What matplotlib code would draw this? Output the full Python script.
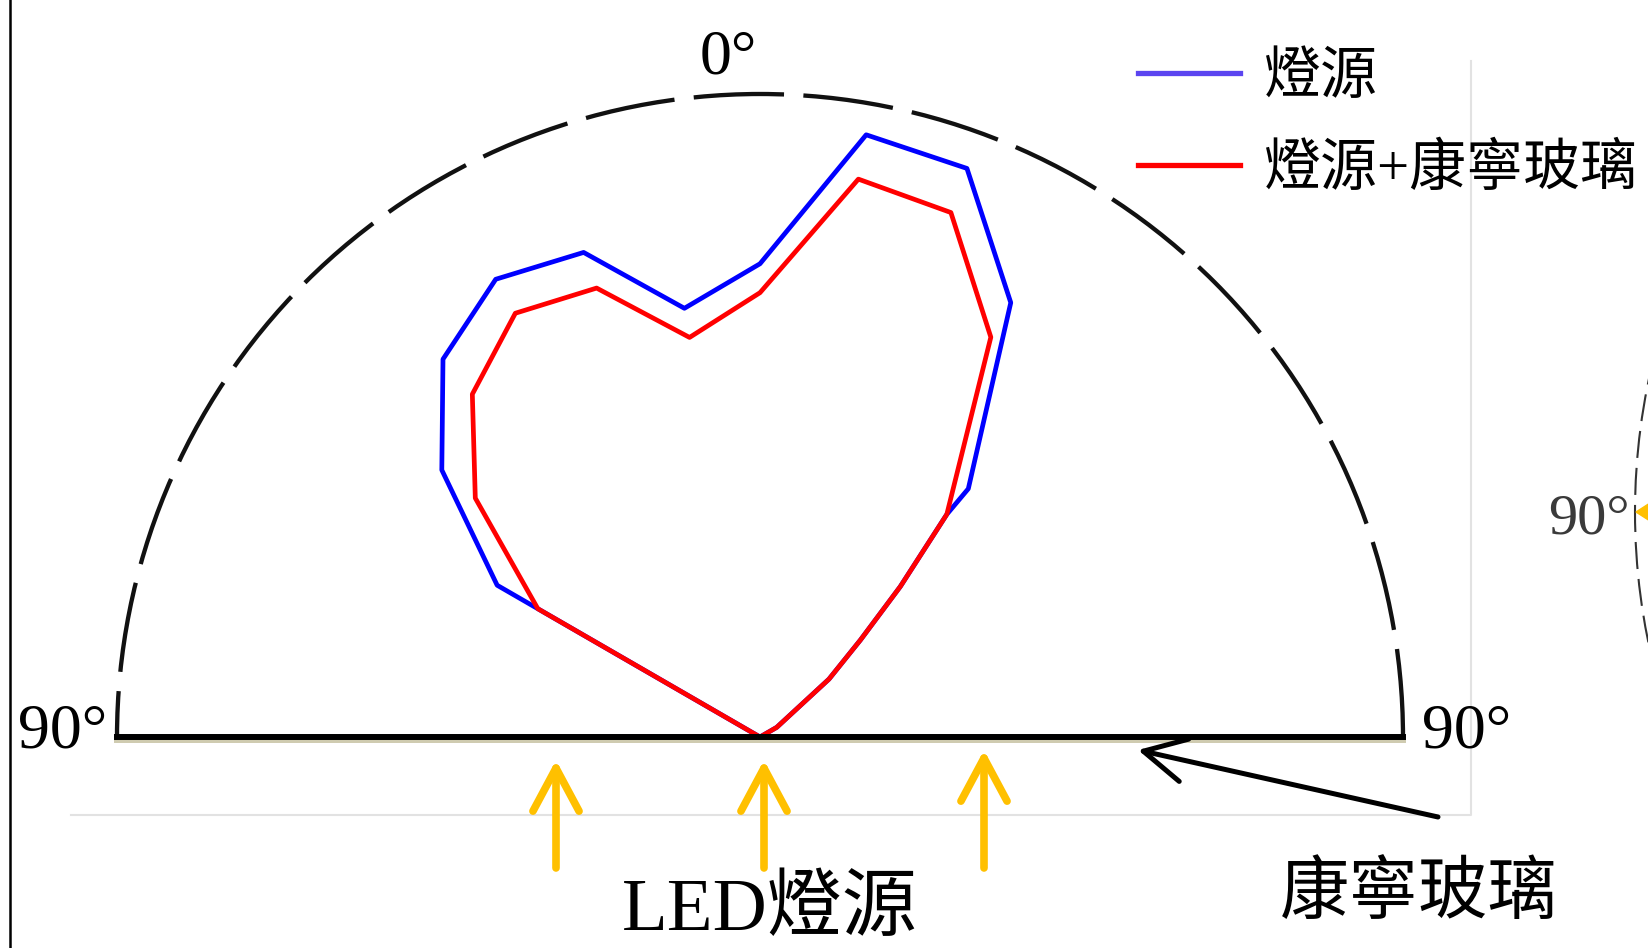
import numpy as np
import matplotlib
matplotlib.use("Agg")
import matplotlib.pyplot as plt
import matplotlib.patheffects as pe
from matplotlib.lines import Line2D
from matplotlib.patches import Arc, Polygon

# -------------------------------------------------
# Data : angle (deg, 0 = straight up) and relative intensity
# -------------------------------------------------

theta_lamp = [-60, -60, -50, -40, -30, -20, -10, 0, 10, 20, 30, 40, 40, 43, 46, 50, 60, 60]
r_lamp = [0.0, 0.472, 0.646, 0.767, 0.822, 0.802, 0.677, 0.736, 0.951,
          0.941, 0.780, 0.504, 0.452, 0.320, 0.217, 0.140, 0.030, 0.0]

theta_glass = [-60, -60, -50, -40, -30, -20, -10, 0, 10, 20, 30, 40, 43, 46, 50, 60, 60]
r_glass = [0.0, 0.399, 0.578, 0.696, 0.761, 0.743, 0.631, 0.691, 0.881,
           0.868, 0.718, 0.452, 0.320, 0.217, 0.140, 0.030, 0.0]

legend_labels = ["燈源", "燈源+康寧玻璃"]
legend_colors = ["#5b45f0", "#ff0000"]
line_colors = ["#0000ff", "#ff0000"]

CJK = ["Noto Sans CJK TC", "DejaVu Sans"]
SERIF = ["Liberation Serif", "Noto Sans CJK TC"]

# -------------------------------------------------
# Figure
# -------------------------------------------------

W, H = 1648, 948
fig = plt.figure(figsize=(W / 100, H / 100), dpi=100)

# polar axes : half disc, centre at (760, 737) px, radius 643 px
R = 643
cx, cy = 760, 737
side = 2 * R
ax = fig.add_axes([(cx - R) / W, (H - cy - R / 2) / H, side / W, side / H],
                  projection="polar")
ax.set_theta_zero_location("N")
ax.set_theta_direction(-1)
ax.set_thetamin(-90)
ax.set_thetamax(90)
ax.set_ylim(0, 1)
ax.set_xticks([])
ax.set_yticks([])
ax.grid(False)
ax.patch.set_alpha(0)

ax.plot(np.radians(theta_lamp), r_lamp, color=line_colors[0], lw=3.4)
ax.plot(np.radians(theta_glass), r_glass, color=line_colors[1], lw=3.4)

ax.spines["polar"].set_linestyle((0, (20, 5.5)))
ax.spines["polar"].set_linewidth(3.1)
ax.spines["polar"].set_edgecolor("#111111")
ax.spines["inner"].set_visible(False)
for s in ("start", "end"):
    ax.spines[s].set_linewidth(4.3)
    ax.spines[s].set_edgecolor("black")
    ax.spines[s].set_path_effects([
        pe.SimpleLineShadow(offset=(0, -2), shadow_color="#cfcbb0", alpha=1),
        pe.Normal()])

# -------------------------------------------------
# Overlay in pixel coordinates (labels, arrows, frame)
# -------------------------------------------------

ov = fig.add_axes([0, 0, 1, 1])
ov.set_xlim(0, W)
ov.set_ylim(H, 0)
ov.axis("off")

ov.plot([71, 1471, 1471], [815, 815, 61], color="#e2e2e2", lw=1.5)
ov.plot([10, 10], [0, H], color="black", lw=1.8)

ov.text(700, 73, "0°", fontsize=46, family=SERIF, ha="left", va="baseline")
ov.text(18, 748, "90°", fontsize=46, family=SERIF, ha="left", va="baseline")
ov.text(1422, 748, "90°", fontsize=46, family=SERIF, ha="left", va="baseline")

ov.text(770, 946, "LED燈源", fontsize=54, family=SERIF, ha="center", va="bottom")
ov.text(1419, 893, "康寧玻璃", fontsize=50, family=CJK, ha="center", va="center")

for x, tip in [(556, 760), (764, 760), (984, 750)]:
    ov.annotate("", xy=(x, tip), xytext=(x, 868),
                arrowprops=dict(arrowstyle="->,head_length=1.55,head_width=0.83",
                                color="#ffc000", lw=5.5, mutation_scale=20,
                                shrinkA=0, shrinkB=0))

ov.annotate("", xy=(1138, 750), xytext=(1438, 817),
            arrowprops=dict(arrowstyle="->,head_length=1.5,head_width=0.78",
                            color="black", lw=3.6, mutation_scale=20,
                            shrinkA=0, shrinkB=0))

# next chart peeking in at the right edge
ov.add_patch(Arc((1635 + R, 512), 2 * R, 2 * R, theta1=165, theta2=195,
                 ls=(0, (13, 4.8)), lw=1.5, color="#333333"))
ov.add_patch(Polygon([[1636, 512], [1650, 503], [1650, 521]], color="#ffc000"))
ov.text(1548, 533, "90°", fontsize=42, family=SERIF, color="#3a3a3a",
        ha="left", va="baseline")

# -------------------------------------------------
# Legend
# -------------------------------------------------

handles = [Line2D([], [], color=c, lw=3.8) for c in legend_colors]
ov.legend(handles, legend_labels, loc="upper left",
          bbox_to_anchor=(1138, 52), bbox_transform=ov.transData,
          frameon=False, prop={"family": SERIF, "size": 41},
          handlelength=1.8, handletextpad=0.42, labelspacing=0.68,
          borderpad=0, borderaxespad=0)

plt.savefig("out.png", dpi=100)
plt.close()
